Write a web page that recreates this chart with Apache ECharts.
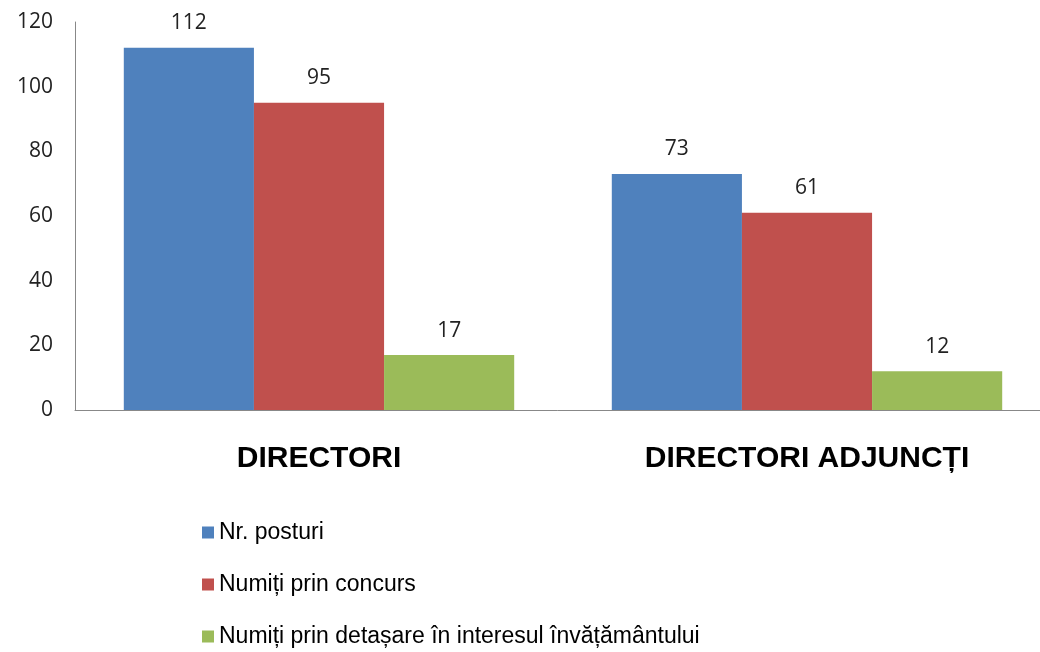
<!DOCTYPE html>
<html>
<head>
<meta charset="utf-8">
<script src="https://cdn.jsdelivr.net/npm/echarts@6/dist/echarts.min.js"></script>
<style>
  html, body { margin: 0; padding: 0; background: #fff; }
  #main { width: 1040px; height: 652px; }
</style>
</head>
<body>
<div id="main"></div>
<script>
var categories = ['DIRECTORI', 'DIRECTORI ADJUNCȚI'];
var seriesNames = ['Nr. posturi', 'Numiți prin concurs', 'Numiți prin detașare în interesul învățământului'];
var nrPosturi = [112, 73];
var numitiConcurs = [95, 61];
var numitiDetasare = [17, 12];
var colors = ['#4F81BD', '#C0504D', '#9BBB59'];

var chart = echarts.init(document.getElementById('main'));

function bar(name, data, color) {
  return {
    name: name,
    type: 'bar',
    data: data,
    barGap: 0,
    barCategoryGap: '20%',
    itemStyle: { color: color },
    label: {
      show: true,
      position: 'top',
      distance: 14,
      color: '#222',
      fontFamily: 'Open Sans',
      fontSize: 21
    }
  };
}

chart.setOption({
  animation: false,
  grid: { left: 75, top: 22, right: -11, bottom: 242, outerBoundsMode: 'none' },
  legend: {
    orient: 'vertical',
    left: 197,
    top: 516,
    height: 200,
    itemWidth: 12,
    itemHeight: 12,
    itemGap: 29,
    icon: 'rect',
    textStyle: { fontFamily: 'Liberation Sans', fontSize: 23, color: '#000' },
    data: seriesNames
  },
  xAxis: {
    type: 'category',
    data: categories,
    axisLine: { lineStyle: { color: '#888', width: 1 } },
    axisTick: { show: false },
    axisLabel: {
      margin: 34,
      color: '#000',
      fontFamily: 'Liberation Sans',
      fontWeight: 'bold',
      fontSize: 30
    }
  },
  yAxis: {
    type: 'value',
    min: 0,
    max: 120,
    interval: 20,
    axisLine: { show: true, lineStyle: { color: '#888', width: 1 } },
    axisTick: { show: false },
    splitLine: { show: false },
    axisLabel: { margin: 22, color: '#222', fontFamily: 'Open Sans', fontSize: 21 }
  },
  series: [
    bar(seriesNames[0], nrPosturi, colors[0]),
    bar(seriesNames[1], numitiConcurs, colors[1]),
    bar(seriesNames[2], numitiDetasare, colors[2])
  ]
});
</script>
</body>
</html>
